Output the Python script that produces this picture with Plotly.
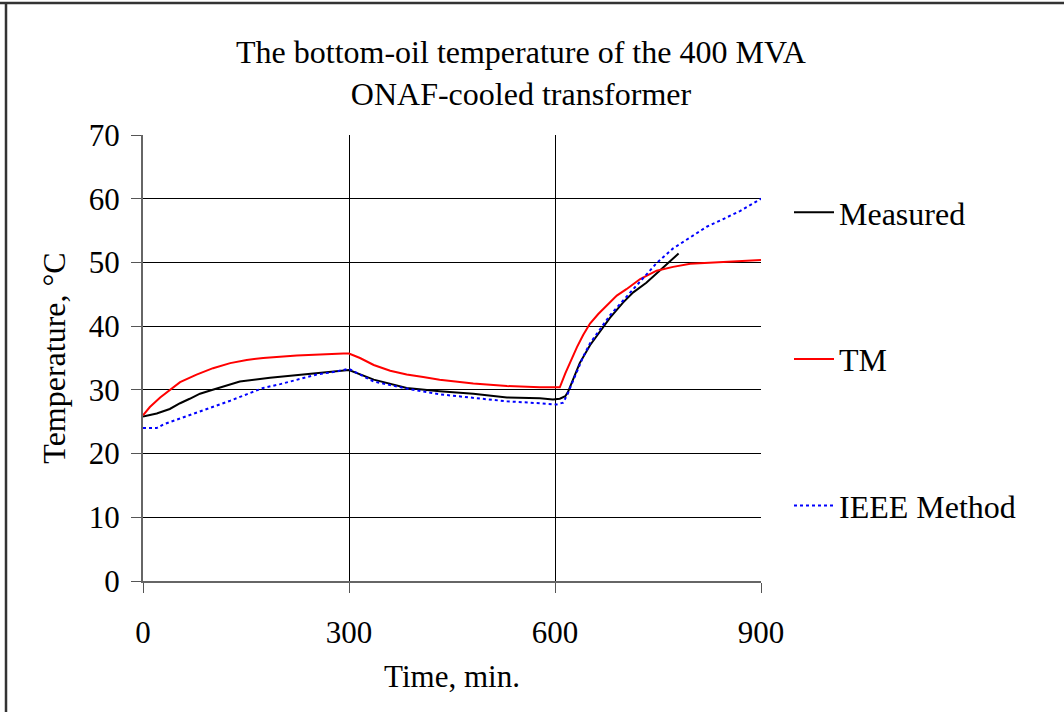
import plotly.graph_objects as go

# ---- data ----
t_measured = [0, 20, 39, 54, 68, 83, 98, 127, 141, 185, 214, 253, 300, 336, 384, 432, 481, 530,
              578, 597, 607, 615, 619, 627, 636, 651, 666, 680, 699, 714, 733, 753, 780]
measured = [25.8, 26.3, 27.0, 27.9, 28.6, 29.4, 29.9, 30.9, 31.3, 31.9, 32.2, 32.6, 33.1, 31.6,
            30.3, 29.8, 29.4, 28.8, 28.7, 28.5, 28.6, 29.0, 29.7, 31.8, 34.2, 37.0, 39.3, 41.3,
            43.7, 45.3, 46.8, 48.7, 51.4]

t_tm = [0, 10, 25, 39, 54, 78, 102, 127, 151, 175, 224, 292, 300, 316, 336, 360, 384, 408, 432,
        481, 530, 578, 607, 615, 622, 632, 641, 651, 663, 675, 690, 704, 724, 748, 772, 797, 845,
        900]
tm = [26.0, 27.3, 28.8, 30.0, 31.2, 32.4, 33.4, 34.2, 34.7, 35.0, 35.4, 35.7, 35.7, 35.0, 33.9,
      33.0, 32.4, 32.0, 31.6, 31.0, 30.6, 30.4, 30.4, 32.6, 34.4, 36.7, 38.6, 40.4, 41.9, 43.2,
      44.8, 45.8, 47.4, 48.7, 49.3, 49.8, 50.1, 50.4]

t_ieee = [0, 20, 30, 54, 78, 102, 127, 151, 175, 200, 224, 253, 282, 300, 336, 384, 432, 481,
          530, 578, 602, 612, 619, 627, 641, 651, 666, 680, 699, 724, 748, 772, 797, 821, 845,
          870, 900]
ieee = [24.0, 24.0, 24.6, 25.5, 26.5, 27.4, 28.3, 29.3, 30.3, 30.9, 31.6, 32.4, 32.9, 33.3, 31.3,
        30.2, 29.3, 28.8, 28.2, 27.9, 27.7, 28.0, 29.5, 31.6, 35.2, 37.3, 39.6, 41.7, 44.0, 47.1,
        49.9, 52.2, 54.0, 55.6, 56.8, 58.1, 60.0]

x_ticks = [0, 300, 600, 900]
y_ticks = [0, 10, 20, 30, 40, 50, 60, 70]

FONT = "Liberation Serif, Times New Roman, serif"

fig = go.Figure()
fig.add_trace(go.Scatter(x=t_measured, y=measured, mode="lines", name="Measured",
                         legendgroup="a", line=dict(color="black", width=2)))
fig.add_trace(go.Scatter(x=t_tm, y=tm, mode="lines", name="TM",
                         legendgroup="b", line=dict(color="#ff0000", width=2)))
fig.add_trace(go.Scatter(x=t_ieee, y=ieee, mode="lines", name="IEEE Method",
                         legendgroup="c", line=dict(color="#0000ff", width=2, dash="dot")))

W, H = 1064, 712
L, R, T, B = 143, 303, 135, 131
pw, ph = W - L - R, H - T - B

def px2x(px):
    return (px - L) / pw

def py2y(py):
    return (H - B - py) / ph

fig.update_layout(
    width=W, height=H,
    margin=dict(l=L, r=R, t=T, b=B, pad=0),
    paper_bgcolor="white", plot_bgcolor="white",
    font=dict(family=FONT, size=30, color="black"),
    title=dict(text="The bottom-oil temperature of the 400 MVA<br>ONAF-cooled transformer",
               x=521 / W, xanchor="center", y=1 - 63 / H, yanchor="middle",
               font=dict(family=FONT, size=32, color="black")),
    xaxis=dict(range=[0, 900], tickvals=x_ticks, ticks="outside", ticklen=10, tickcolor="#555",
               tickwidth=1, showgrid=True, gridcolor="black", gridwidth=1, showline=True,
               linecolor="#666", linewidth=2, zeroline=False, ticklabelstandoff=13,
               title=dict(text="Time, min.", font=dict(size=31), standoff=16),
               tickfont=dict(size=31)),
    yaxis=dict(range=[0, 70], tickvals=y_ticks, ticks="outside", ticklen=10, tickcolor="#555",
               tickwidth=1, showgrid=True, gridcolor="black", gridwidth=1, showline=True,
               linecolor="#666", linewidth=2, zeroline=False, ticklabelstandoff=5,
               title=dict(text="Temperature, °C", font=dict(size=32), standoff=14),
               tickfont=dict(size=31)),
    legend=dict(x=px2x(789), xanchor="left", y=py2y(185), yanchor="top",
                traceorder="grouped", tracegroupgap=102,
                font=dict(family=FONT, size=32), bgcolor="rgba(0,0,0,0)", itemwidth=40),
    showlegend=True,
    shapes=[
        dict(type="line", xref="paper", yref="paper", x0=px2x(0), x1=px2x(W), y0=py2y(3), y1=py2y(3),
             line=dict(color="#333", width=2.5)),
        dict(type="line", xref="paper", yref="paper", x0=px2x(6), x1=px2x(6), y0=py2y(2), y1=py2y(H),
             line=dict(color="#333", width=2.5)),
    ],
)

fig.write_html("out.html")
